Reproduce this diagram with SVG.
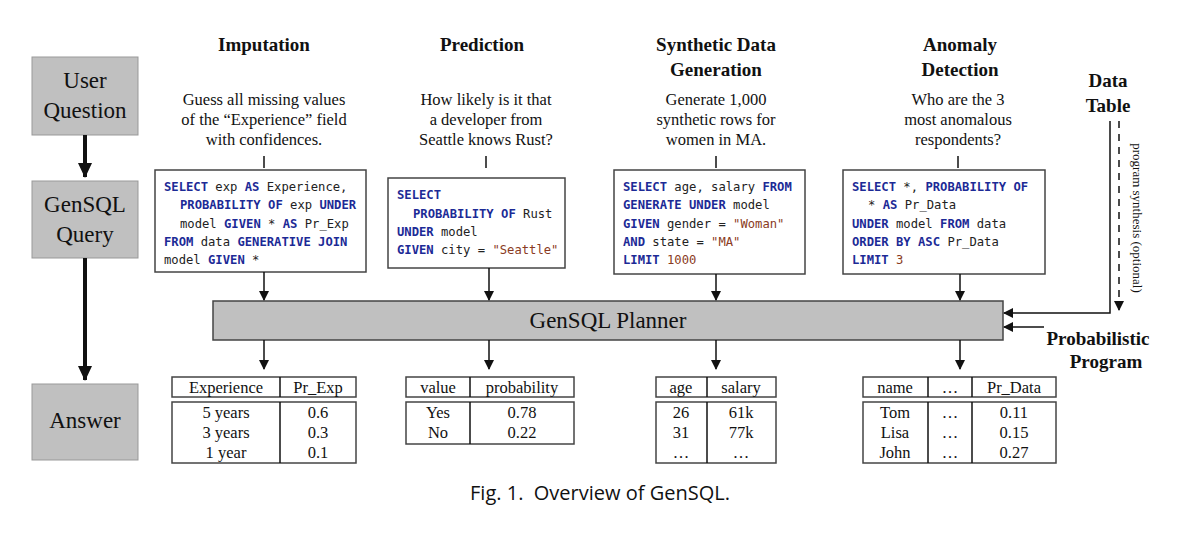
<svg xmlns="http://www.w3.org/2000/svg" width="1200" height="533" viewBox="0 0 1200 533">
<style>
.lab{fill:#c0c0c0;stroke:#999;stroke-width:1}
.lt{font-family:"Liberation Serif",serif;font-size:23px;fill:#111;text-anchor:middle}
.h{font-family:"Liberation Serif",serif;font-size:19px;font-weight:bold;fill:#111;text-anchor:middle}
.q{font-family:"Liberation Serif",serif;font-size:16.5px;fill:#111;text-anchor:middle}
.box{fill:#fff;stroke:#444;stroke-width:1.5}
.c{font-family:"DejaVu Sans Mono",monospace;font-size:12.2px;fill:#222}
.k{fill:#1c2a96;font-weight:bold}
.s{fill:#8a3b22}
.t{font-family:"Liberation Serif",serif;font-size:16.5px;fill:#111;text-anchor:middle}
.ln{stroke:#111;stroke-width:1.5;fill:none}
</style>
<defs>
<marker id="a" markerWidth="10" markerHeight="10" refX="9" refY="5" orient="auto" markerUnits="userSpaceOnUse"><path d="M0,0L10,5L0,10z" fill="#111"/></marker>
<marker id="b" markerWidth="16" markerHeight="16" refX="14" refY="8" orient="auto" markerUnits="userSpaceOnUse"><path d="M0,1L15,8L0,15z" fill="#111"/></marker>
</defs>
<rect width="1200" height="533" fill="#fff"/>
<g id="user-question"><rect class="lab" x="32" y="57" width="106" height="78"/><text class="lt" x="85" y="88">User</text><text class="lt" x="85" y="118">Question</text></g>
<g id="gensql-query"><rect class="lab" x="32" y="181" width="106" height="77"/><text class="lt" x="85" y="212">GenSQL</text><text class="lt" x="85" y="242">Query</text></g>
<g id="answer"><rect class="lab" x="32" y="384" width="106" height="76"/><text class="lt" x="85" y="428">Answer</text></g>

<g id="headers">
<text class="h" x="264" y="51">Imputation</text>
<text class="h" x="482" y="51">Prediction</text>
<text class="h" x="716" y="51">Synthetic Data</text><text class="h" x="716" y="76">Generation</text>
<text class="h" x="960" y="51">Anomaly</text><text class="h" x="960" y="76">Detection</text>
</g>
<g id="questions">
<text class="q" x="264" y="105">Guess all missing values</text><text class="q" x="264" y="125">of the “Experience” field</text><text class="q" x="264" y="145">with confidences.</text>
<text class="q" x="486" y="105">How likely is it that</text><text class="q" x="486" y="125">a developer from</text><text class="q" x="486" y="145">Seattle knows Rust?</text>
<text class="q" x="716" y="105">Generate 1,000</text><text class="q" x="716" y="125">synthetic rows for</text><text class="q" x="716" y="145">women in MA.</text>
<text class="q" x="958" y="105">Who are the 3</text><text class="q" x="958" y="125">most anomalous</text><text class="q" x="958" y="145">respondents?</text>
</g>

<g id="q-imputation"><rect class="box" x="155" y="170" width="211" height="102"/>
<text class="c" x="164" y="191"><tspan class="k">SELECT</tspan> exp <tspan class="k">AS</tspan> Experience,</text>
<text class="c" x="180" y="209"><tspan class="k">PROBABILITY OF</tspan> exp <tspan class="k">UNDER</tspan></text>
<text class="c" x="180" y="228">model <tspan class="k">GIVEN</tspan> * <tspan class="k">AS</tspan> Pr_Exp</text>
<text class="c" x="164" y="246"><tspan class="k">FROM</tspan> data <tspan class="k">GENERATIVE JOIN</tspan></text>
<text class="c" x="164" y="264">model <tspan class="k">GIVEN</tspan> *</text></g>
<g id="q-prediction"><rect class="box" x="388" y="178" width="177" height="90"/>
<text class="c" x="397" y="199"><tspan class="k">SELECT</tspan></text>
<text class="c" x="413" y="218"><tspan class="k">PROBABILITY OF</tspan> Rust</text>
<text class="c" x="397" y="236"><tspan class="k">UNDER</tspan> model</text>
<text class="c" x="397" y="254"><tspan class="k">GIVEN</tspan> city = <tspan class="s">"Seattle"</tspan></text></g>
<g id="q-synthetic"><rect class="box" x="614" y="170" width="191" height="104"/>
<text class="c" x="623" y="191"><tspan class="k">SELECT</tspan> age, salary <tspan class="k">FROM</tspan></text>
<text class="c" x="623" y="209"><tspan class="k">GENERATE UNDER</tspan> model</text>
<text class="c" x="623" y="228"><tspan class="k">GIVEN</tspan> gender = <tspan class="s">"Woman"</tspan></text>
<text class="c" x="623" y="246"><tspan class="k">AND</tspan> state = <tspan class="s">"MA"</tspan></text>
<text class="c" x="623" y="264"><tspan class="k">LIMIT</tspan> <tspan class="s">1000</tspan></text></g>
<g id="q-anomaly"><rect class="box" x="843" y="170" width="202" height="104"/>
<text class="c" x="852" y="191"><tspan class="k">SELECT</tspan> *, <tspan class="k">PROBABILITY OF</tspan></text>
<text class="c" x="868" y="209">* <tspan class="k">AS</tspan> Pr_Data</text>
<text class="c" x="852" y="228"><tspan class="k">UNDER</tspan> model <tspan class="k">FROM</tspan> data</text>
<text class="c" x="852" y="246"><tspan class="k">ORDER BY ASC</tspan> Pr_Data</text>
<text class="c" x="852" y="264"><tspan class="k">LIMIT</tspan> <tspan class="s">3</tspan></text></g>

<g id="planner"><rect x="213" y="301" width="790" height="39" fill="#c0c0c0" stroke="#444" stroke-width="1.5"/><text x="608" y="328" font-family="Liberation Serif,serif" font-size="23" fill="#111" text-anchor="middle">GenSQL Planner</text></g>

<g id="data-table"><text class="h" x="1108" y="87">Data</text><text class="h" x="1108" y="112">Table</text></g>
<g id="prob-program"><text class="h" x="1098" y="345">Probabilistic</text><text class="h" x="1106" y="368">Program</text></g>
<text transform="translate(1133,218) rotate(90)" font-family="Liberation Serif,serif" font-size="13" fill="#111" text-anchor="middle">program synthesis (optional)</text>

<g id="a-imp"><rect class="box" x="172" y="377" width="184" height="20"/><line class="ln" x1="280" y1="377" x2="280" y2="397"/>
<text class="t" x="226" y="393">Experience</text><text class="t" x="318" y="393">Pr_Exp</text>
<rect class="box" x="172" y="402" width="184" height="61"/><line class="ln" x1="280" y1="402" x2="280" y2="463"/>
<text class="t" x="226" y="418">5 years</text><text class="t" x="318" y="418">0.6</text>
<text class="t" x="226" y="438">3 years</text><text class="t" x="318" y="438">0.3</text>
<text class="t" x="226" y="458">1 year</text><text class="t" x="318" y="458">0.1</text></g>
<g id="a-pred"><rect class="box" x="406" y="377" width="168" height="20"/><line class="ln" x1="470" y1="377" x2="470" y2="397"/>
<text class="t" x="438" y="393">value</text><text class="t" x="522" y="393">probability</text>
<rect class="box" x="406" y="402" width="168" height="42"/><line class="ln" x1="470" y1="402" x2="470" y2="444"/>
<text class="t" x="438" y="418">Yes</text><text class="t" x="522" y="418">0.78</text>
<text class="t" x="438" y="438">No</text><text class="t" x="522" y="438">0.22</text></g>
<g id="a-syn"><rect class="box" x="656" y="377" width="120" height="20"/><line class="ln" x1="707" y1="377" x2="707" y2="397"/>
<text class="t" x="681" y="393">age</text><text class="t" x="741" y="393">salary</text>
<rect class="box" x="656" y="402" width="120" height="61"/><line class="ln" x1="707" y1="402" x2="707" y2="463"/>
<text class="t" x="681" y="418">26</text><text class="t" x="741" y="418">61k</text>
<text class="t" x="681" y="438">31</text><text class="t" x="741" y="438">77k</text>
<text class="t" x="681" y="458">…</text><text class="t" x="741" y="458">…</text></g>
<g id="a-anom"><rect class="box" x="863" y="377" width="193" height="20"/><line class="ln" x1="928" y1="377" x2="928" y2="397"/><line class="ln" x1="972" y1="377" x2="972" y2="397"/>
<text class="t" x="895" y="393">name</text><text class="t" x="950" y="393">…</text><text class="t" x="1014" y="393">Pr_Data</text>
<rect class="box" x="863" y="402" width="193" height="61"/><line class="ln" x1="928" y1="402" x2="928" y2="463"/><line class="ln" x1="972" y1="402" x2="972" y2="463"/>
<text class="t" x="895" y="418">Tom</text><text class="t" x="950" y="418">…</text><text class="t" x="1014" y="418">0.11</text>
<text class="t" x="895" y="438">Lisa</text><text class="t" x="950" y="438">…</text><text class="t" x="1014" y="438">0.15</text>
<text class="t" x="895" y="458">John</text><text class="t" x="950" y="458">…</text><text class="t" x="1014" y="458">0.27</text></g>

<g id="connectors">
<line x1="85" y1="135" x2="85" y2="177" stroke="#111" stroke-width="4" marker-end="url(#b)"/>
<line x1="85" y1="258" x2="85" y2="380" stroke="#111" stroke-width="4" marker-end="url(#b)"/>
<line class="ln" x1="264" y1="156" x2="264" y2="168"/>
<line class="ln" x1="486" y1="156" x2="486" y2="168"/>
<line class="ln" x1="716" y1="156" x2="716" y2="168"/>
<line class="ln" x1="958" y1="156" x2="958" y2="168"/>
<line class="ln" x1="264" y1="272" x2="264" y2="300" marker-end="url(#a)"/>
<line class="ln" x1="489" y1="268" x2="489" y2="300" marker-end="url(#a)"/>
<line class="ln" x1="716" y1="274" x2="716" y2="300" marker-end="url(#a)"/>
<line class="ln" x1="960" y1="274" x2="960" y2="300" marker-end="url(#a)"/>
<line class="ln" x1="264" y1="340" x2="264" y2="369" marker-end="url(#a)"/>
<line class="ln" x1="489" y1="340" x2="489" y2="369" marker-end="url(#a)"/>
<line class="ln" x1="716" y1="340" x2="716" y2="369" marker-end="url(#a)"/>
<line class="ln" x1="960" y1="340" x2="960" y2="369" marker-end="url(#a)"/>
<polyline class="ln" points="1110,121 1110,313 1004,313" marker-end="url(#a)"/>
<line class="ln" x1="1119" y1="121" x2="1119" y2="310" stroke-dasharray="7,6" marker-end="url(#a)"/>
<line class="ln" x1="1044" y1="327" x2="1004" y2="327" marker-end="url(#a)"/>
</g>
<text x="600" y="500" font-family="Open Sans,sans-serif" font-size="20" fill="#111" text-anchor="middle" xml:space="preserve">Fig. 1.  Overview of GenSQL.</text>
</svg>
